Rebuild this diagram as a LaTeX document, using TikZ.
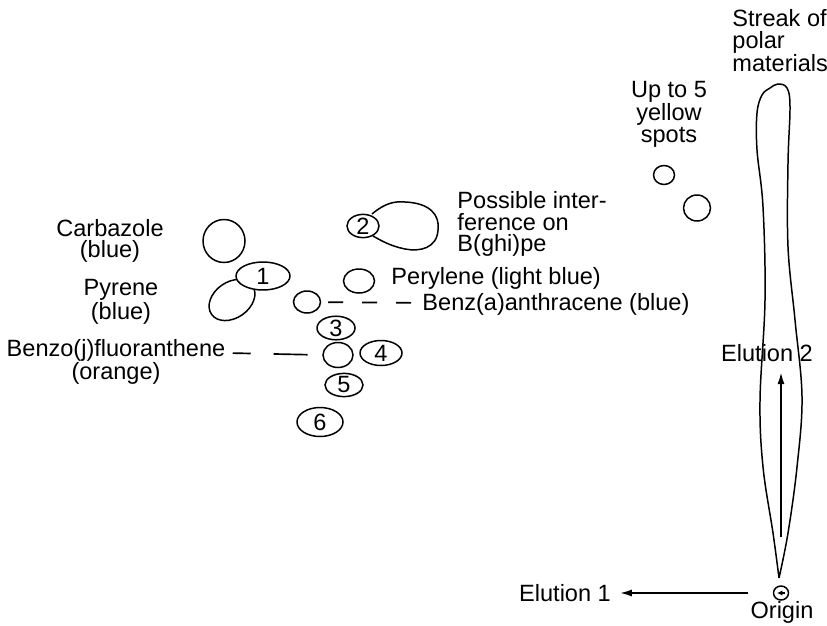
\documentclass[tikz,border=0pt]{standalone}
\usepackage{fontspec}
\setmainfont{Liberation Sans}
\usetikzlibrary{shapes.geometric, arrows.meta}

\tikzset{
  spot/.style={draw, ellipse, fill=white, inner sep=0pt, line width=0.85pt},
  tag/.style={align=center, inner sep=1pt},
  leader/.style={line width=0.95pt},
  flow/.style={-{Latex[length=0.24cm, width=0.14cm]}, line width=1.05pt}
}

\begin{document}
\begin{tikzpicture}[x=0.02cm, y=-0.02cm, thick, >=latex, font=\fontsize{13.4}{12.2}\selectfont]
    \useasboundingbox (0,0) rectangle (827,625);

    \draw[line width=0.85pt] plot[smooth, tension=0.6] coordinates {(779,578) (773,533) (763,467) (760,400) (765,300) (763,207) (757,150) (757,113) (762,95) (770,88) (778,84) (787,88) (790,107) (788,163) (788,247) (795,320) (802,397) (797,467) (788,533) (779,578)};
    \draw[line width=0.85pt] (372,214) .. controls (385,203) and (395,201) .. (405,202) .. controls (430,203) and (440,215) .. (438,230) .. controls (437,248) and (420,252) .. (405,249) .. controls (390,246) and (380,240) .. (373,236);

    \node (CarbazoleSpot) [spot, minimum width=0.84cm, minimum height=0.86cm] at (224,241) {};
    \node (PyreneSpot) [spot, minimum width=1cm, minimum height=0.72cm, rotate=35] at (232,300) {};
    \node (Spot1) [spot, minimum width=1.08cm, minimum height=0.56cm] at (263,276) {1};
    \node (Spot2) [spot, minimum width=0.64cm, minimum height=0.44cm] at (363,226) {2};
    \node (PeryleneSpot) [spot, minimum width=0.62cm, minimum height=0.48cm] at (359,281) {};
    \node (BenzASpot) [spot, minimum width=0.54cm, minimum height=0.44cm] at (307,302) {};
    \node (Spot3) [spot, minimum width=0.76cm, minimum height=0.46cm] at (336,328) {3};
    \node (BenzoJSpot) [spot, minimum width=0.6cm, minimum height=0.5cm] at (338,355) {};
    \node (Spot4) [spot, minimum width=0.84cm, minimum height=0.5cm] at (381,353) {4};
    \node (Spot5) [spot, minimum width=0.76cm, minimum height=0.4cm] at (344,385) {5};
    \node (Spot6) [spot, minimum width=0.92cm, minimum height=0.58cm] at (320,422) {6};
    \node (YellowSpotA) [spot, minimum width=0.42cm, minimum height=0.38cm] at (664,175) {};
    \node (YellowSpotB) [spot, minimum width=0.54cm, minimum height=0.52cm] at (697,208) {};
    \node (Origin) [spot, minimum width=0.3cm, minimum height=0.28cm] at (781,593) {};
    \draw[-{Latex[length=3pt, width=3pt]}, line width=0.6pt] ([xshift=0.08cm]Origin.center) -- ([xshift=-0.08cm]Origin.center);

    \node (CarbazoleLabel) [tag] at (110,241) {Carbazole\\(blue)};
    \node (PyreneLabel) [tag] at (121,302) {Pyrene\\(blue)};
    \node (BenzoJLabel) [tag] at (116,362) {Benzo(j)fluoranthene\\(orange)};
    \node (InterferenceLabel) [tag, align=left, anchor=west] at (455,224) {Possible inter-\\ference on\\B(ghi)pe};
    \node (PeryleneLabel) [tag, anchor=west] at (389,278) {Perylene (light blue)};
    \node (BenzALabel) [tag, anchor=west] at (420,304) {Benz(a)anthracene (blue)};
    \node (YellowLabel) [tag] at (669,114) {Up to 5\\yellow\\spots};
    \node (StreakLabel) [tag, align=left, anchor=west] at (730,41) {Streak of\\polar\\materials};
    \node (OriginLabel) [tag] at (782,612) {Origin};
    \node (Elution1) [tag] at (565,593) {Elution 1};
    \node (Elution2) [tag] at (767,353) {Elution 2};

    \draw[leader, dash pattern=on 0.3cm off 0.38cm, shorten <=0.14cm] (BenzASpot) -- (BenzALabel);
    \draw[leader, dash pattern=on 0.36cm off 0.46cm on 0.68cm off 0.5cm, shorten <=0.1cm] ([yshift=0.18cm]BenzoJLabel.east) -- (BenzoJSpot.west);
    \draw[flow, shorten <=0.49cm, shorten >=0.13cm] (Origin.west) -- (Elution1.east);
    \draw[flow, shorten <=0.96cm, shorten >=0.16cm] (Origin.north) -- (Origin.north |- Elution2.south);
\end{tikzpicture}
\end{document}
